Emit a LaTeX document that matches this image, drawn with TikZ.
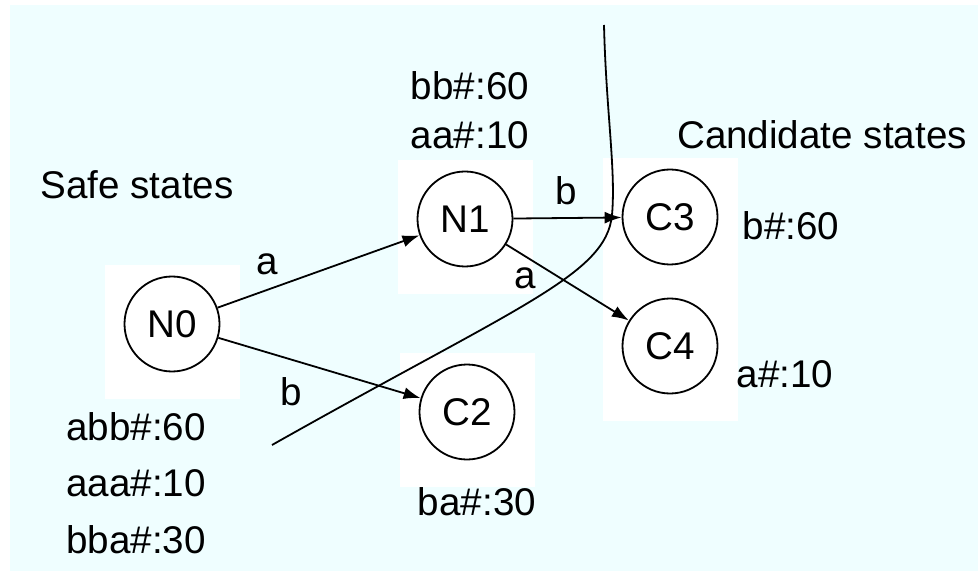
\documentclass[tikz,border=0pt]{standalone}
\usepackage{fontspec}
\setmainfont{Liberation Sans}
\usepackage{xcolor}
\usepackage{tikz}
\usetikzlibrary{arrows.meta,backgrounds}
\definecolor{paleaqua}{RGB}{239,254,255}
\newcommand{\labelfont}{\fontsize{19.3}{23}\selectfont}
\tikzset{
  >={Latex[length=8.5pt,width=6pt]},
  trans/.style={->, line width=0.9pt, draw=black},
  cutline/.style={line width=0.9pt, draw=black},
  state/.style={
    circle,
    draw=black,
    line width=0.9pt,
    minimum size=47.5pt,
    inner sep=0pt,
    font=\labelfont
  },
  pad/.style={fill=white, minimum width=67.5pt, minimum height=67pt, inner sep=0pt},
  txt/.style={anchor=base, inner sep=0pt, font=\labelfont}
}

\begin{document}
\begin{tikzpicture}[x=0.5pt, y=-0.5pt]
  \useasboundingbox (0,0) rectangle (978,571);

  % states
  \node[state] (N0) at (172,324) {N0};
  \node[state] (N1) at (465,219) {N1};
  \node[state] (C2) at (467,412) {C2};
  \node[state] (C3) at (670,217) {C3};
  \node[state] (C4) at (670,346) {C4};

  % page, tint and the white squares behind the states
  \begin{scope}[on background layer]
    \fill[white] (0,0) rectangle (978,571);
    \fill[paleaqua] (10,5) rectangle (978,571);
    \foreach \s in {N0,N1,C2,C3,C4}
      \node[pad] (pad-\s) at ([yshift=-4pt]\s) {};
  \end{scope}

  \draw[trans] (N0) -- (N1);
  \draw[trans] (N0) -- (C2);
  \draw[trans] (N1) -- (C3);
  \draw[trans] (N1) -- (C4);

  \node[txt] (sym-a0) at (267,275) {a};
  \node[txt] (sym-b0) at (291,405) {b};
  \node[txt] (sym-b1) at (566,205) {b};
  \node[txt] (sym-a1) at (525,289) {a};

  % group captions
  \node[txt] (safe) at (137,199) {Safe states};
  \node[txt] (cand) at (822,149) {Candidate states};

  % counts per state
  \node[txt] (n1-bb) at (470,100) {bb\#:60};
  \node[txt] (n1-aa) at (470,149) {aa\#:10};
  \node[txt] (n0-abb) at (136,440) {abb\#:60};
  \node[txt] (n0-aaa) at (136,496) {aaa\#:10};
  \node[txt] (n0-bba) at (136,553) {bba\#:30};
  \node[txt] (c2-ba) at (477,515) {ba\#:30};
  \node[txt] (c3-b) at (791,240) {b\#:60};
  \node[txt] (c4-a) at (785,387) {a\#:10};

  % border between safe and candidate states
  \coordinate (cut-top) at (604,25);
  \coordinate (cut-mid) at (612,215);
  \coordinate (cut-end) at (272,445);
  \draw[cutline] (cut-top) .. controls (606,110) and (616,170) .. (cut-mid)
    .. controls (606,275) and (520,305) .. (cut-end);
\end{tikzpicture}
\end{document}
